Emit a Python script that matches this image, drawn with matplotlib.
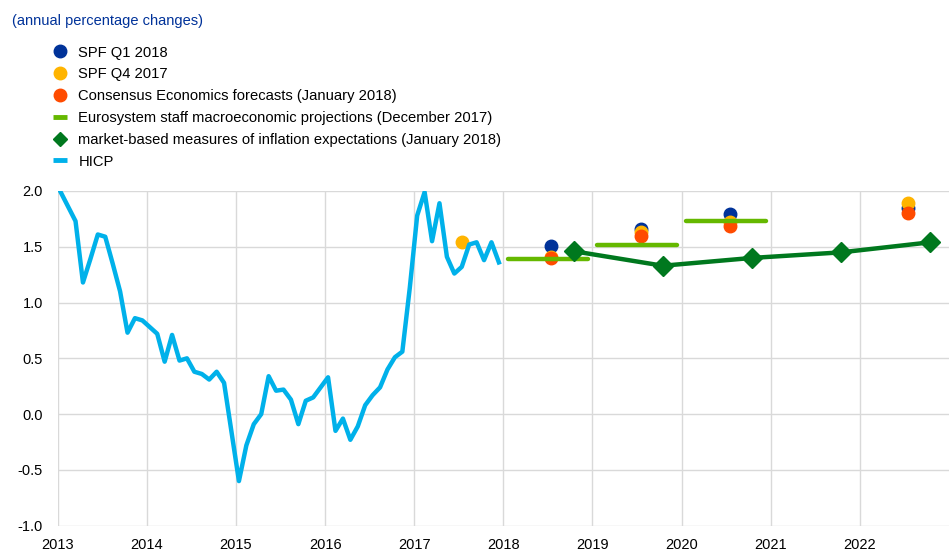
import numpy as np
import matplotlib.pyplot as plt

plt.rcParams['font.family'] = ['Liberation Sans', 'DejaVu Sans']

# HICP, monthly, Jan 2013 - Dec 2017
hicp = [1.99, 1.86, 1.73, 1.18, 1.39, 1.61, 1.59, 1.35, 1.10, 0.73, 0.86, 0.84,
        0.78, 0.72, 0.47, 0.71, 0.48, 0.50, 0.38, 0.36, 0.31, 0.38, 0.28, -0.16,
        -0.60, -0.28, -0.09, 0.00, 0.34, 0.21, 0.22, 0.13, -0.09, 0.12, 0.15, 0.24,
        0.33, -0.15, -0.04, -0.23, -0.11, 0.08, 0.17, 0.24, 0.40, 0.51, 0.56, 1.13,
        1.78, 1.99, 1.55, 1.89, 1.41, 1.26, 1.32, 1.52, 1.54, 1.38, 1.54, 1.36]
hicp_x = 2013 + (np.arange(len(hicp)) + 0.4) / 12

# survey forecasts (plotted mid-year)
spf_q1_years = [2018, 2019, 2020, 2022]
spf_q1 = [1.51, 1.66, 1.79, 1.85]
spf_q4_years = [2017, 2018, 2019, 2020, 2022]
spf_q4 = [1.54, 1.41, 1.63, 1.72, 1.89]
consensus_years = [2018, 2019, 2020, 2022]
consensus = [1.40, 1.60, 1.69, 1.80]

# Eurosystem staff projections (annual)
esp_years = [2018, 2019, 2020]
esp = [1.39, 1.52, 1.73]

# market-based measures
market_years = [2018, 2019, 2020, 2021, 2022]
market = [1.46, 1.33, 1.40, 1.45, 1.54]

c_blue = '#003299'
c_yellow = '#FFB400'
c_orange = '#FF4B00'
c_lgreen = '#65B800'
c_dgreen = '#00781E'
c_hicp = '#00B1EA'

fig = plt.figure(figsize=(9.49, 5.51), dpi=100)
ax = fig.add_axes([0.0608, 0.0459, 0.9392, 0.6075])

ax.plot(np.array(spf_q1_years) + 0.54, spf_q1, 'o', color=c_blue, ms=9, zorder=3,
        label='SPF Q1 2018')
ax.plot(np.array(spf_q4_years) + 0.54, spf_q4, 'o', color=c_yellow, ms=9, zorder=3,
        label='SPF Q4 2017')
ax.plot(np.array(consensus_years) + 0.54, consensus, 'o', color=c_orange, ms=9, zorder=3,
        label='Consensus Economics forecasts (January 2018)')

for i, (yr, v) in enumerate(zip(esp_years, esp)):
    ax.plot([yr + 0.05, yr + 0.95], [v, v], color=c_lgreen, lw=3.2,
            solid_capstyle='round', zorder=4,
            label='Eurosystem staff macroeconomic projections (December 2017)' if i == 0 else None)

ax.plot(np.array(market_years) + 0.79, market, color=c_dgreen, lw=3.2, zorder=5)
ax.plot(np.array(market_years) + 0.79, market, 'D', color=c_dgreen, ms=10, zorder=5,
        label='market-based measures of inflation expectations (January 2018)')

ax.plot(hicp_x, hicp, color=c_hicp, lw=3.2, zorder=4, label='HICP')

ax.set_xlim(2013, 2023)
ax.set_ylim(-1.0, 2.0)
ax.set_xticks(range(2013, 2023))
ax.set_yticks(np.arange(-1.0, 2.01, 0.5))
ax.yaxis.set_major_formatter(plt.FormatStrFormatter('%.1f'))
ax.grid(True, color='#d9d9d9', lw=1)
ax.set_axisbelow(True)
for s in ax.spines.values():
    s.set_visible(False)
ax.tick_params(axis='both', length=0, labelsize=10.5, colors='#000000')
ax.tick_params(axis='y', pad=10.5)
ax.tick_params(axis='x', pad=8.5)

leg = fig.legend(loc='upper left', bbox_to_anchor=(52.7 / 949, 1 - 45.5 / 551),
                 frameon=False, fontsize=10.6, borderpad=0, borderaxespad=0,
                 handlelength=1.0, handletextpad=0.75, labelspacing=0.53)
leg.legend_handles[4].set_markersize(7.5)
for h in (leg.legend_handles[3], leg.legend_handles[5]):
    h.set_linewidth(3.5)
    h.set_solid_capstyle('butt')

fig.text(12 / 949, 1 - 21 / 551, '(annual percentage changes)', color=c_blue,
         fontsize=10.5, va='center', ha='left')

fig.savefig('out.png', dpi=100)
